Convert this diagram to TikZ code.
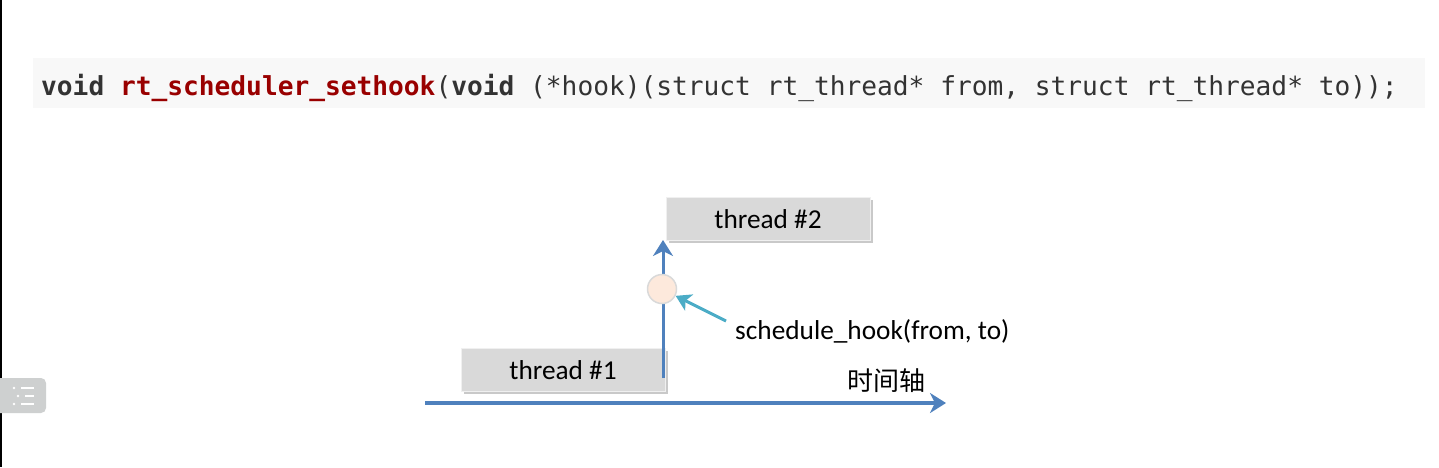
\documentclass[tikz,border=0pt]{standalone}
\usepackage{fontspec}
\setmainfont{Carlito}
\newfontfamily\codefont{DejaVu Sans Mono}
\newfontfamily\cjkfont{Noto Sans CJK SC}
\usetikzlibrary{arrows.meta,shadows}
\definecolor{codebg}{HTML}{F8F8F8}
\definecolor{codetxt}{HTML}{333333}
\definecolor{codered}{HTML}{990000}
\definecolor{axisblue}{HTML}{4F81BD}
\definecolor{hookteal}{HTML}{4BACC6}
\definecolor{boxgray}{HTML}{D9D9D9}
\definecolor{peach}{HTML}{FDE9DC}
\definecolor{icongray}{HTML}{CED0D0}
\begin{document}
\begin{tikzpicture}[x=1pt,y=-1pt,
  threadbox/.style={draw=white!94!black, line width=1pt, fill=boxgray, minimum width=204pt, minimum height=43pt, inner sep=0pt, font=\fontsize{27.3}{32}\selectfont, text=black,
    drop shadow={shadow xshift=2.5pt, shadow yshift=-2.5pt, opacity=0.35, fill=black!60}},
  bluearrow/.style={draw=axisblue, line width=3.5pt, -{Stealth[length=16pt,width=20pt,inset=5pt]}},
  tealarrow/.style={draw=hookteal, line width=3pt, -{Stealth[length=15pt,width=18pt,inset=4pt]}},
  lbl/.style={inner sep=0pt, font=\fontsize{27.3}{32}\selectfont, text=black}]
\useasboundingbox (0,0) rectangle (1439,467);
\fill[white] (0,0) rectangle (1439,467);
\fill[black] (0,0) rectangle (1.5,467);
% code bar
\fill[codebg] (33,58) rectangle (1425,108);
\node[anchor=west, inner sep=0pt, text=codetxt, font=\codefont\fontsize{26.2}{30}\selectfont] (code) at (41,88)
  {\textbf{void} \textcolor{codered}{\textbf{rt\_scheduler\_sethook}}(\textbf{void} (*hook)(struct rt\_thread* from, struct rt\_thread* to));};
% thread boxes
\node[threadbox] (t2) at (768,219) {thread \#2};
\node[threadbox] (t1) at (563,370) {thread \#1};
% time axis
\coordinate (axs) at (425,403);
\coordinate (axe) at (946,403);
\draw[bluearrow] (axs) -- (axe);
\node[lbl, font=\cjkfont\fontsize{26}{30}\selectfont] (axl) at (886,381) {时间轴};
% vertical switch arrow
\coordinate (vs) at (663,378);
\coordinate (ve) at (663,240);
\draw[bluearrow, line width=3pt] (vs) -- (ve);
\node[circle, fill=peach, draw=black!15, line width=1.5pt, minimum size=29pt, inner sep=0pt] (hk) at (662,289) {};
% hook label
\node[lbl, anchor=west] (hl) at (735,331) {schedule\_hook(from, to)};
\coordinate (ts) at (726,321);
\draw[tealarrow] (ts) -- (hk);
% side icon
\fill[icongray, rounded corners=5pt] (-6,378) rectangle (46,413);
\fill[white] (14,388) circle (1.3pt) (18,396) circle (1.3pt) (14,404) circle (1.3pt);
\draw[white, line width=2pt] (21,388) -- (34,388) (25,396) -- (34,396) (21,404) -- (34,404);
\end{tikzpicture}
\end{document}
